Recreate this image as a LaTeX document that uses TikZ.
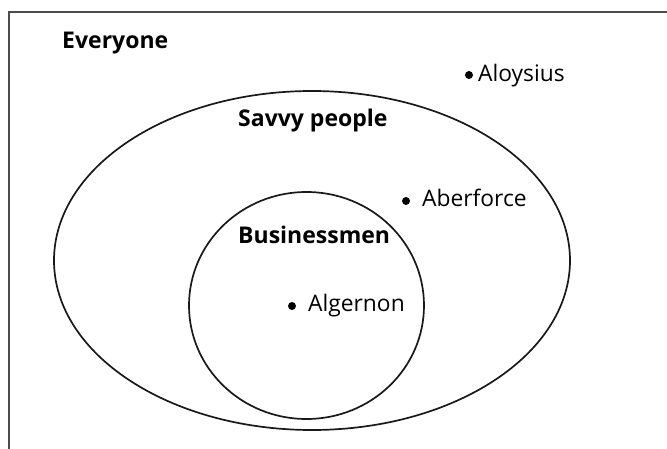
\documentclass[tikz,border=0pt]{standalone}
\usepackage{fontspec}
\setmainfont{Open Sans}
\begin{document}
\begin{tikzpicture}[x=1pt,y=-1pt,
  setline/.style={line width=1.7pt,black!90},
  setlabel/.style={anchor=base west,inner sep=0pt,font=\fontsize{23}{26}\selectfont\bfseries},
  member/.style={anchor=base west,inner sep=0pt,font=\fontsize{22.8}{26}\selectfont},
  memberdot/.style={circle,fill=black,inner sep=0pt,minimum size=8pt}]
\useasboundingbox (0,0) rectangle (667,449);
% open frame: top and left edges only
\draw[line width=1.4pt,black!70] (667,12) -- (9,12) -- (9,449);
% nested sets
\draw[setline] (312,260.5) ellipse [x radius=258, y radius=169.5];
\draw[setline] (306.5,305.5) ellipse [x radius=117.5, y radius=113.5];
% set names
\node[setlabel] (everyone) at (62,49) {Everyone};
\node[setlabel] (savvy) at (238,127) {Savvy people};
\node[setlabel] (business) at (238,244) {Businessmen};
% individuals
\node[memberdot] (dotaloysius) at (469,75) {};
\node[member] (aloysius) at (478,82) {Aloysius};
\node[memberdot] (dotaberforce) at (406,201) {};
\node[member] (aberforce) at (422,207) {Aberforce};
\node[memberdot] (dotalgernon) at (292,306) {};
\node[member] (algernon) at (308,311) {Algernon};
\end{tikzpicture}
\end{document}
